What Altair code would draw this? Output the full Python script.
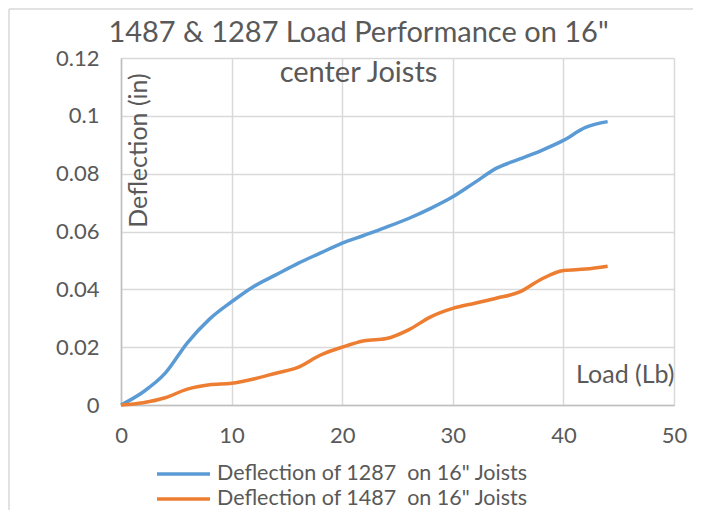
import altair as alt
import pandas as pd

load = [0, 2, 4, 6, 8, 10, 12, 14, 16, 18, 20, 22, 24, 26, 28, 30, 32, 34, 36, 38, 40, 42, 44]
defl_1287 = [0, 0.0045, 0.011, 0.0215, 0.0297, 0.0357, 0.041, 0.045, 0.049, 0.0525, 0.056, 0.0587,
             0.0615, 0.0645, 0.068, 0.072, 0.077, 0.082, 0.085, 0.088, 0.0915, 0.096, 0.098]
defl_1487 = [0, 0.0008, 0.0025, 0.0055, 0.007, 0.0075, 0.009, 0.011, 0.013, 0.0172, 0.020, 0.0222,
             0.023, 0.026, 0.0305, 0.0334, 0.0352, 0.037, 0.039, 0.0435, 0.0465, 0.047, 0.048]
series_names = ["Deflection of 1287\u00a0 on 16\" Joists", "Deflection of 1487\u00a0 on 16\" Joists"]
series_colors = ["#5B9BD5", "#ED7D31"]
x_ticks = [0, 10, 20, 30, 40, 50]
y_ticks = [0, 0.02, 0.04, 0.06, 0.08, 0.1, 0.12]

rows = []
for s, vals in zip(series_names, [defl_1287, defl_1487]):
    for x, y in zip(load, vals):
        rows.append({"load": x, "defl": y, "series": s})
df = pd.DataFrame(rows)

TXT = "#595959"
FONT = "Lato"
one = pd.DataFrame({"a": [0]})

frame_top = alt.Chart(one).mark_rule(color="#d9d9d9", strokeWidth=1.5).encode(
    x=alt.value(-112), x2=alt.value(572), y=alt.value(-49))
frame_left = alt.Chart(one).mark_rule(color="#d9d9d9", strokeWidth=1.5).encode(
    x=alt.value(-112), y=alt.value(-49), y2=alt.value(460))

lines = alt.Chart(df).mark_line(interpolate="monotone", strokeWidth=3.5).encode(
    x=alt.X("load:Q", scale=alt.Scale(domain=[0, 50], nice=False),
            axis=alt.Axis(values=x_ticks, title="Load (Lb)", titleX=553, titleY=-31,
                          titleAlign="right", titleBaseline="middle", labelPadding=20,
                          labelFlush=False)),
    y=alt.Y("defl:Q", scale=alt.Scale(domain=[0, 0.12], nice=False),
            axis=alt.Axis(values=y_ticks, title="Deflection (in)", titleX=17, titleY=92,
                          titleAngle=270, titleAlign="center", titleBaseline="middle",
                          labelPadding=22,
                          labelExpr="datum.value == 0 ? '0' : format(datum.value, '.2~f')")),
    color=alt.Color("series:N", scale=alt.Scale(domain=series_names, range=series_colors),
                    legend=alt.Legend(title=None, orient="none", legendX=34, legendY=405,
                                      symbolType="stroke", symbolSize=2809, symbolStrokeWidth=3.5,
                                      clipHeight=22, labelFontSize=21.5, labelColor=TXT,
                                      labelFont=FONT, labelOffset=5, rowPadding=3,
                                      labelLimit=400)),
)

chart = alt.layer(frame_top, frame_left, lines).properties(
    width=553, height=347,
    background="white",
    autosize=alt.AutoSizeParams(type="none"),
    padding={"left": 113, "top": 50, "right": 21, "bottom": 105},
    title=alt.Title(["1487 & 1287 Load Performance on 16\"", "center Joists"],
                    fontSize=29, font=FONT, color=TXT, fontWeight="normal",
                    anchor="middle", dx=-39, dy=56, lineHeight=40, offset=-24),
).configure_axis(
    labelFont=FONT, labelFontSize=22, labelColor=TXT,
    titleFont=FONT, titleFontSize=25, titleColor=TXT, titleFontWeight="normal",
    gridColor="#d9d9d9", gridWidth=1.5, domainColor="#bfbfbf", domainWidth=1.5,
    ticks=False,
).configure_view(strokeOpacity=0)

chart.save("out.html", embed_options={"renderer": "svg", "actions": False})
